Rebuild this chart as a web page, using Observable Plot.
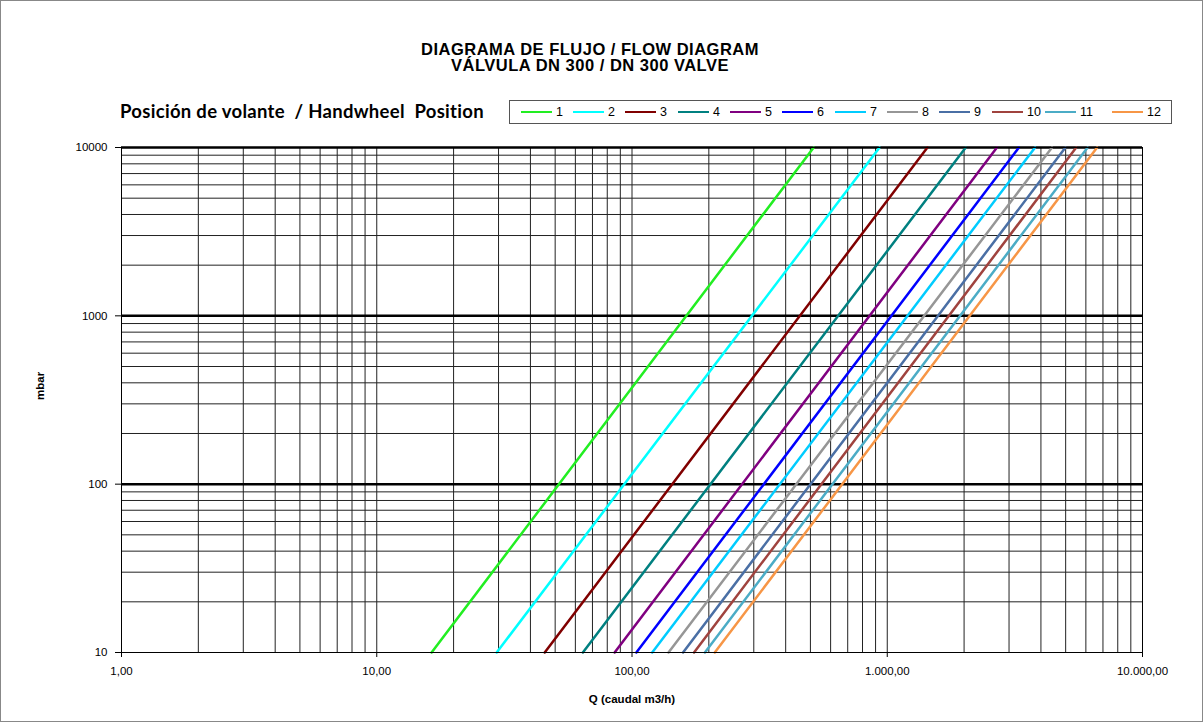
<!DOCTYPE html>
<html>
<head>
<meta charset="utf-8">
<script src="https://cdn.jsdelivr.net/npm/d3@7"></script>
<script src="https://cdn.jsdelivr.net/npm/@observablehq/plot@0.6"></script>
<style>
  html, body { margin: 0; padding: 0; background: #fff; }
  #chart { position: relative; width: 1203px; height: 722px; overflow: hidden; font-family: "Liberation Sans", Arial, sans-serif; }
  #border { position: absolute; left: 0; top: 0; width: 1201px; height: 720px; border: 1px solid #888; pointer-events: none; }
  #title { position: absolute; left: 340px; width: 500px; top: 41px; text-align: center; font-weight: bold; font-size: 16.5px; letter-spacing: 0.5px; line-height: 16px; color: #000; }
  #legtitle { position: absolute; left: 120px; top: 99px; font-family: Lato, "Open Sans", sans-serif; font-weight: bold; font-size: 18.5px; letter-spacing: 0.3px; line-height: 24px; color: #000; white-space: nowrap; }
  #legend { position: absolute; left: 509px; top: 100px; width: 663px; height: 24px; border: 1px solid #555; box-sizing: border-box; }
  .item { position: absolute; top: 0; height: 22px; display: flex; align-items: center; font-size: 12.5px; color: #000; }
  .swatch { width: 31px; height: 0; border-top: 2.5px solid; margin-right: 4px; }
  #plot { position: absolute; left: 0; top: 130px; }
</style>
</head>
<body>
<div id="chart">
  <div id="title">DIAGRAMA DE FLUJO / FLOW DIAGRAM<br>VÁLVULA DN 300 / DN 300 VALVE</div>
  <div id="legtitle">Posición de volante&nbsp; / Handwheel&nbsp; Position</div>
  <div id="legend"></div>
  <div id="plot"></div>
  <div id="border"></div>
</div>
<script>
// Handwheel positions (series)
const positions = ["1", "2", "3", "4", "5", "6", "7", "8", "9", "10", "11", "12"];
const seriesColors = ["#22ee22", "#00ffff", "#800000", "#008080", "#800080", "#0000ff",
                      "#00ccff", "#969696", "#4a6fa5", "#a0433e", "#4bacc6", "#f79646"];
// Flow Q (m3/h) read where each line meets 10 mbar and 10000 mbar
const qAt10mbar    = [16.4, 29.5, 45.5, 64.2, 85.5, 104, 120, 139, 158.5, 175, 193, 211];
const qAt10000mbar = [515, 933, 1437, 2030, 2690, 3280, 3795, 4420, 4990, 5500, 6095, 6640];
const pressureEnds = [10, 10000];
// Axis ticks
const xTickValues = [1, 10, 100, 1000, 10000];
const xTickLabels = ["1,00", "10,00", "100,00", "1.000,00", "10.000,00"];
const yTickValues = [10, 100, 1000, 10000];
const yTickLabels = ["10", "100", "1000", "10000"];
const yMajorGrid = [100, 1000, 10000];

// Build line table
const points = [];
positions.forEach((s, i) => {
  points.push({s, q: qAt10mbar[i], p: pressureEnds[0]});
  points.push({s, q: qAt10000mbar[i], p: pressureEnds[1]});
});

// Minor grid positions (1..9 per decade)
const minorX = [10, 100, 1000];
for (const dec of [1, 10, 100, 1000]) for (let k = 2; k <= 9; k++) minorX.push(k * dec);
const minorY = [];
for (const dec of [10, 100, 1000]) for (let k = 2; k <= 9; k++) minorY.push(k * dec);

const chart = Plot.plot({
  width: 1203,
  height: 592,
  marginLeft: 121,
  marginRight: 61,
  marginTop: 17,
  marginBottom: 70,
  style: {fontFamily: "'Liberation Sans', Arial, sans-serif", fontSize: "11px", color: "#000", background: "transparent", overflow: "visible"},
  x: {type: "log", domain: [1, 10000]},
  y: {type: "log", domain: [10, 10000]},
  color: {domain: positions, range: seriesColors},
  marks: [
    Plot.ruleX(minorX, {stroke: "#222", strokeWidth: 1}),
    Plot.ruleY(minorY, {stroke: "#222", strokeWidth: 1}),
    Plot.ruleY(yMajorGrid, {stroke: "#000", strokeWidth: 2.5}),
    Plot.line(points, {x: "q", y: "p", z: "s", stroke: "s", strokeWidth: 2.5}),
    Plot.axisX({ticks: xTickValues, tickFormat: (d) => xTickLabels[xTickValues.indexOf(d)], tickSize: 5, tickPadding: 9, label: null, fontSize: 11.5}),
    Plot.axisY({ticks: yTickValues, tickFormat: (d) => yTickLabels[yTickValues.indexOf(d)], tickSize: 6, tickPadding: 8, label: null, fontSize: 11.5}),
    Plot.frame({stroke: "#000", strokeWidth: 1}),
    Plot.text(["Q (caudal m3/h)"], {frameAnchor: "bottom", dy: 50, fontWeight: "bold", fontSize: 11.5}),
    Plot.text(["mbar"], {frameAnchor: "left", dx: -81, rotate: -90, fontWeight: "bold", fontSize: 11.5})
  ]
});
document.getElementById("plot").appendChild(chart);

// Legend
const legend = document.getElementById("legend");
const slotX = [11, 63, 115, 168, 220, 272, 325, 377, 429, 482, 535, 602];
positions.forEach((s, i) => {
  const it = document.createElement("div");
  it.className = "item";
  it.style.left = slotX[i] + "px";
  it.innerHTML = `<span class="swatch" style="border-color:${seriesColors[i]}"></span><span>${s}</span>`;
  legend.appendChild(it);
});
</script>
</body>
</html>
